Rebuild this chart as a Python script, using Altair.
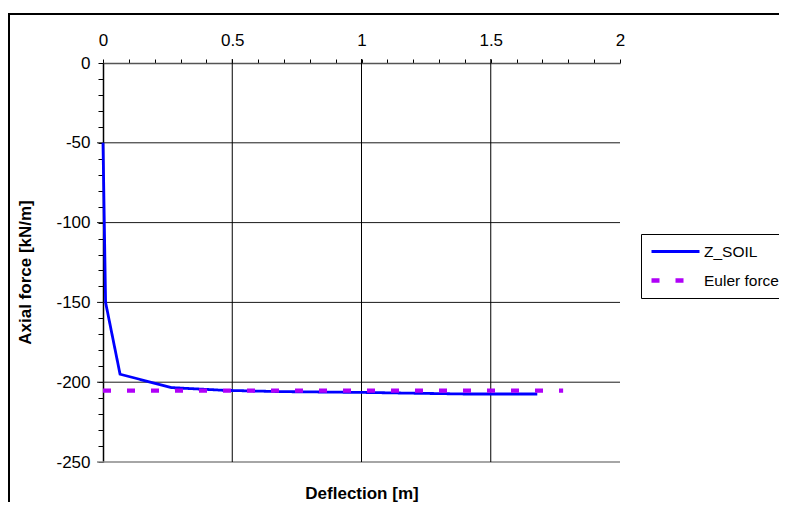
import altair as alt
import pandas as pd

# Z_SOIL curve (deflection [m], axial force [kN/m])
defl = [0.0, 0.005, 0.01, 0.066, 0.266, 0.47, 0.69, 1.0, 1.4, 1.68]
force = [-50, -100, -150, -195, -203.4, -205.1, -205.9, -206.4, -207.4, -207.4]

# Euler force (constant)
euler_x = [0.0, 1.78]
euler_y = [-205.3, -205.3]

series_names = ["Z_SOIL", "Euler force"]
series_colors = ["#0000FF", "#B000F8"]

x_ticks = [round(i * 0.1, 1) for i in range(21)]
y_ticks = list(range(-250, 1, 10))
x_grid = [0.5, 1.0, 1.5]
y_grid = [-50, -100, -150, -200]

FONT = "Liberation Sans"

lines = pd.DataFrame(
    {"x": defl + euler_x,
     "y": force + euler_y,
     "series": [series_names[0]] * len(defl) + [series_names[1]] * len(euler_x)}
)

xs = alt.Scale(domain=[0, 2], nice=False, zero=False)
ys = alt.Scale(domain=[-250, 0], nice=False, zero=False)

xaxis = alt.Axis(
    orient="top", values=x_ticks,
    labelExpr="round(datum.value*10) % 5 == 0 ? '' + round(datum.value*10)/10 : ''",
    tickSize=4, tickColor="black", domainColor="#555555", domainWidth=1.5,
    grid=False, labelFont=FONT, labelFontSize=17, labelColor="black",
    labelPadding=10, labelFlush=False, labelOverlap=False,
    title="Deflection [m]", titleFont=FONT, titleFontSize=17, titleFontWeight="bold",
    titleColor="black", titleY=435, titleBaseline="alphabetic",
)
yaxis = alt.Axis(
    orient="left", values=y_ticks,
    labelExpr="datum.value % 50 == 0 ? '' + datum.value : ''",
    tickSize=5, tickColor="black", domainColor="black", domainWidth=1.5,
    grid=False, labelFont=FONT, labelFontSize=17, labelColor="black",
    labelPadding=8, labelOverlap=False, labelFlush=False,
    title="Axial force [kN/m]", titleFont=FONT, titleFontSize=17, titleFontWeight="bold",
    titleColor="black", titlePadding=21, titleY=209, titleAlign="center",
)

X = alt.X("x:Q", scale=xs, axis=xaxis)
Y = alt.Y("y:Q", scale=ys, axis=yaxis)

legend = alt.Legend(
    title=None, orient="none", legendX=538, legendY=171,
    symbolType="M-1,0H5", symbolSize=256,
    labelFont=FONT, labelFontSize=15.5, labelColor="black",
    labelOffset=34, strokeColor="black", fillColor="white",
    padding=8, rowPadding=10, labelLimit=300,
)

border = alt.Chart(pd.DataFrame({"k": [0]})).mark_rect(
    fillOpacity=0, stroke="black", strokeWidth=2
).encode(x=alt.value(-94), x2=alt.value(800), y=alt.value(-49), y2=alt.value(500))

hgrid = alt.Chart(pd.DataFrame({"y": y_grid})).mark_rule(
    color="#1a1a1a", strokeWidth=1
).encode(y=Y, x=alt.value(-6), x2=alt.value(517))

bottom = alt.Chart(pd.DataFrame({"y": [-250]})).mark_rule(
    color="#888888", strokeWidth=1.5
).encode(y=Y, x=alt.value(-6), x2=alt.value(517))

vgrid = alt.Chart(pd.DataFrame({"x": x_grid})).mark_rule(
    color="black", strokeWidth=1
).encode(x=X, y=alt.value(-4), y2=alt.value(399))

line = alt.Chart(lines).mark_line(strokeCap="butt", clip=False).encode(
    x=X, y=Y,
    color=alt.Color("series:N", scale=alt.Scale(domain=series_names, range=series_colors),
                    legend=legend),
    strokeDash=alt.StrokeDash("series:N", scale=alt.Scale(domain=series_names, range=[[1, 0], [8, 16]]),
                              legend=legend),
    strokeWidth=alt.StrokeWidth("series:N", scale=alt.Scale(domain=series_names, range=[2.8, 4.3]),
                                legend=legend),
    order=alt.Order("series:N", sort="descending"),
)

chart = alt.layer(border, hgrid, bottom, vgrid, line).properties(
    width=517, height=399,
    autosize=alt.AutoSizeParams(type="none"),
    padding={"left": 95, "top": 55, "right": 159, "bottom": 40},
    background="white",
).configure_view(stroke=None)

chart.save("out.html", embed_options={"renderer": "svg", "actions": False})
